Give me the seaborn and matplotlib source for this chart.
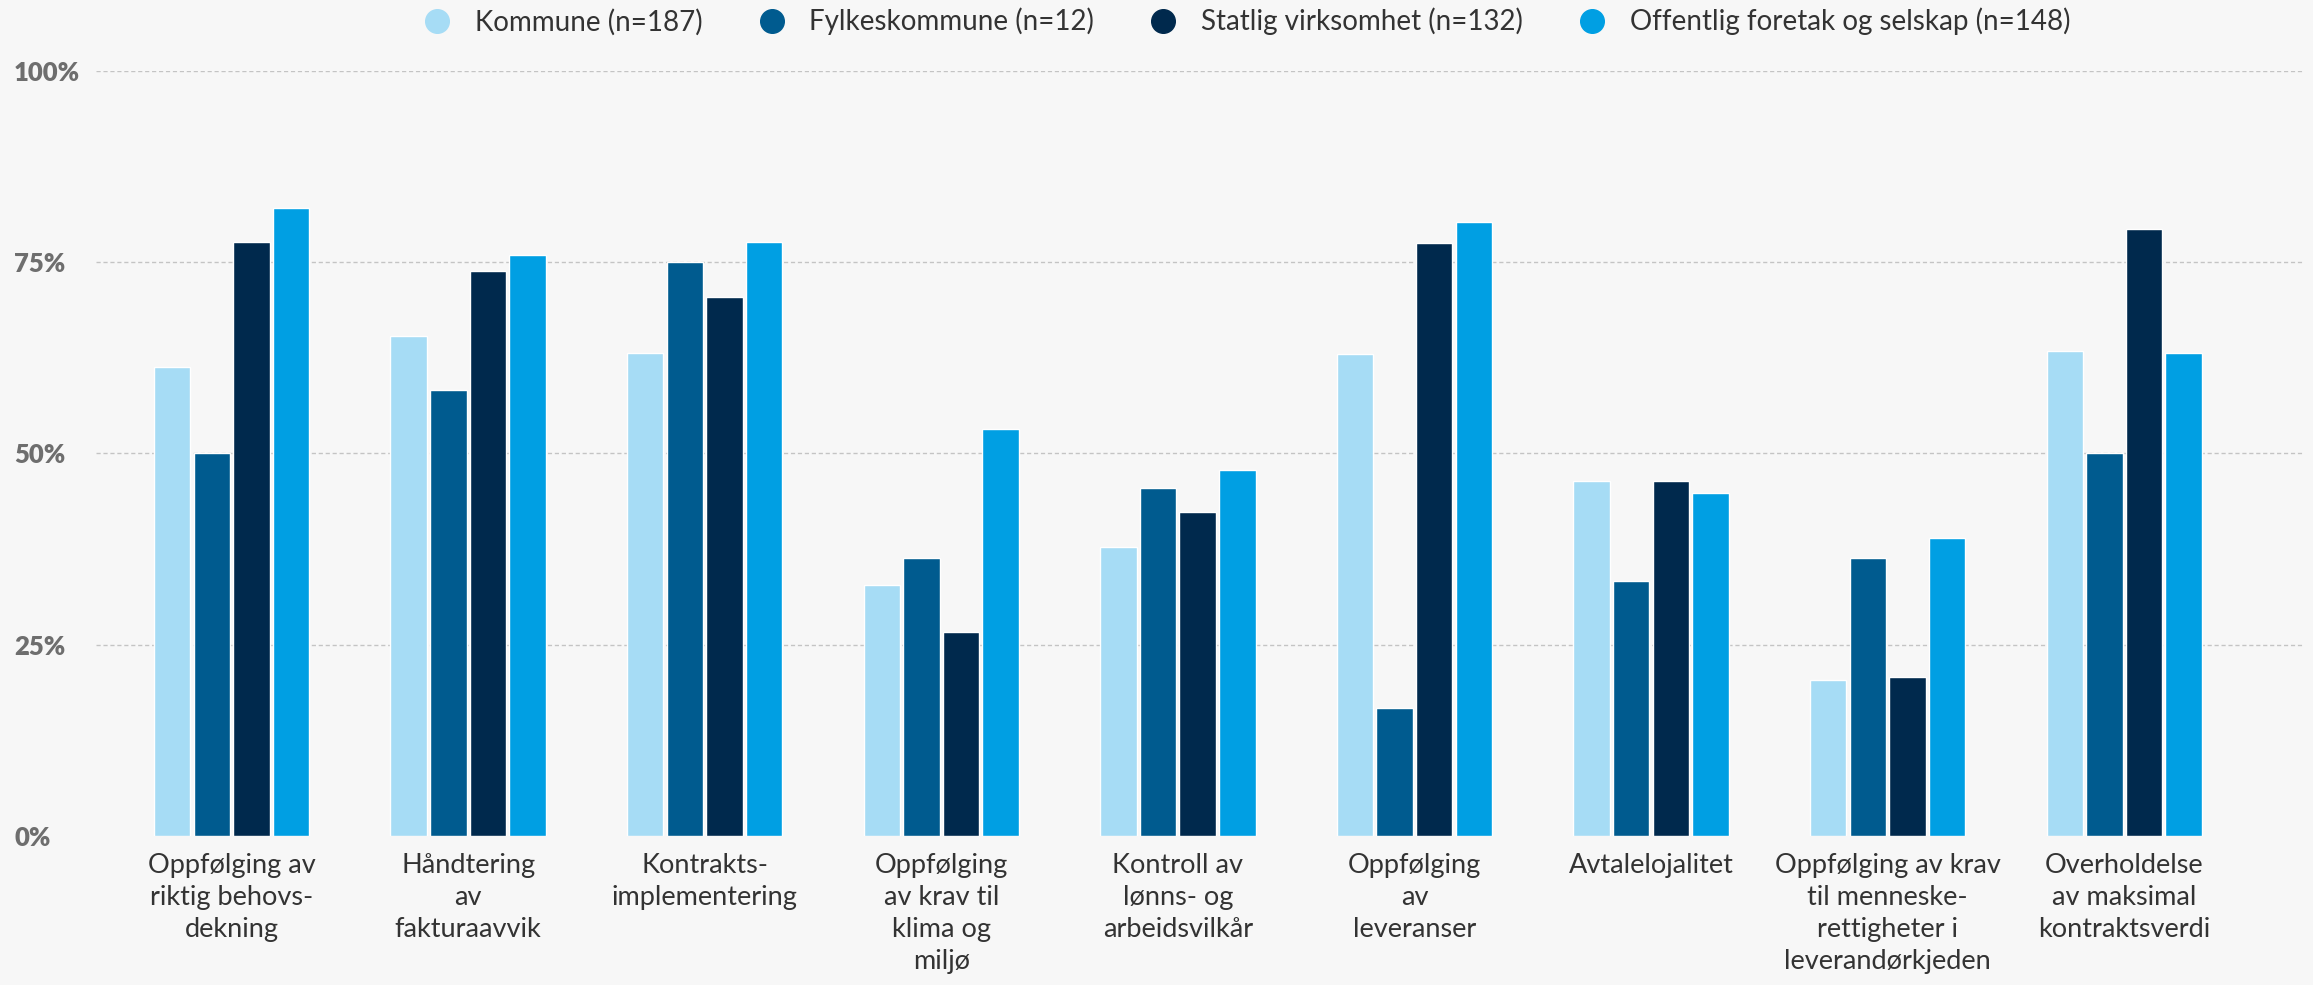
import pandas as pd
import numpy as np
import matplotlib.pyplot as plt
import seaborn as sns
from matplotlib.lines import Line2D

# data (share in percent)
categories = [
    'Oppfølging av\nriktig behovs-\ndekning',
    'Håndtering\nav\nfakturaavvik',
    'Kontrakts-\nimplementering',
    'Oppfølging\nav krav til\nklima og\nmiljø',
    'Kontroll av\nlønns- og\narbeidsvilkår',
    'Oppfølging\nav\nleveranser',
    'Avtalelojalitet',
    'Oppfølging av krav\ntil menneske-\nrettigheter i\nleverandørkjeden',
    'Overholdelse\nav maksimal\nkontraktsverdi',
]
series = ['Kommune (n=187)', 'Fylkeskommune (n=12)',
          'Statlig virksomhet (n=132)', 'Offentlig foretak og selskap (n=148)']

kommune = [61.3, 65.3, 63.1, 32.8, 37.8, 63.0, 46.4, 20.4, 63.4]
fylkeskommune = [50.0, 58.3, 75.0, 36.4, 45.5, 16.7, 33.3, 36.4, 50.0]
statlig = [77.6, 73.8, 70.5, 26.6, 42.4, 77.5, 46.4, 20.8, 79.4]
offentlig = [82.1, 75.9, 77.6, 53.2, 47.8, 80.2, 44.8, 38.9, 63.2]

colors = ['#a6dcf5', '#005b8f', '#00294d', '#009fe3']
yticks = [0, 25, 50, 75, 100]

df = pd.DataFrame({
    'kategori': categories * 4,
    'gruppe': np.repeat(series, len(categories)),
    'andel': kommune + fylkeskommune + statlig + offentlig,
})

# style
sns.set_style("white")
plt.rcParams['font.family'] = ['Lato', 'DejaVu Sans']
bg = '#f7f7f7'

fig = plt.figure(figsize=(23.13, 9.85), dpi=100, facecolor=bg)
ax = fig.add_axes([0.0415, 0.1513, 0.9546, 0.7766], facecolor=bg)

sns.barplot(data=df, x='kategori', y='andel', hue='gruppe', order=categories,
            hue_order=series, palette=colors, width=0.67, gap=0.08,
            saturation=1, legend=False, ax=ax)

ax.set_xlim(-0.573, 8.76)
ax.set_ylim(0, 100)
ax.set_yticks(yticks)
ax.set_yticklabels([f'{v}%' for v in yticks], fontsize=18.5, fontweight='heavy',
                   color='#6e6e6e', ha='left')
ax.tick_params(axis='y', length=0, pad=59)
ax.tick_params(axis='x', length=0, pad=12)
ax.set_xticks(range(len(categories)))
ax.set_xticklabels(categories, fontsize=19.5, color='#333333', linespacing=1.35,
                   va='top')
ax.set_xlabel('')
ax.set_ylabel('')

for v in yticks[1:]:
    ax.axhline(v, color='#c4c4c4', linestyle=(0, (3, 2)), linewidth=1, zorder=0)

for s in ax.spines.values():
    s.set_visible(False)

# legend
handles = [Line2D([0], [0], marker='o', linestyle='', markersize=17,
                  markerfacecolor=c, markeredgecolor=c) for c in colors]
fig.legend(handles, series, loc='center', bbox_to_anchor=(0.536, 0.978),
           ncol=4, frameon=False, fontsize=20, handletextpad=0.35,
           columnspacing=1.5, labelcolor='#333333')

plt.savefig('out.png', dpi=100, facecolor=bg)
